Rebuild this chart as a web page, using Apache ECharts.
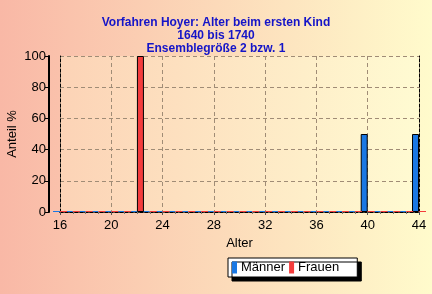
<!DOCTYPE html>
<html><head><meta charset="utf-8">
<script src="https://cdn.jsdelivr.net/npm/echarts@6/dist/echarts.min.js"></script>
<style>html,body{margin:0;padding:0;}#c{width:432px;height:294px;}</style>
</head><body><div id="c"></div>
<script>
const titleLines = ['Vorfahren Hoyer: Alter beim ersten Kind', '1640 bis 1740', 'Ensemblegröße 2 bzw. 1'];
const ages = [16,17,18,19,20,21,22,23,24,25,26,27,28,29,30,31,32,33,34,35,36,37,38,39,40,41,42,43,44];
const maenner = [0,0,0,0,0,0,0,0,0,0,0,0,0,0,0,0,0,0,0,0,0,0,0,0,50,0,0,0,50];
const frauen  = [0,0,0,0,0,0,100,0,0,0,0,0,0,0,0,0,0,0,0,0,0,0,0,0,0,0,0,0,0];
const xTicks = [16,20,24,28,32,36,40,44];
const yTicks = [0,20,40,60,80,100];

const chart = echarts.init(document.getElementById('c'), null, {renderer:'canvas'});
function mk(vals, color){
  return ages.map((a,i)=>({value:[a, vals[i]], itemStyle:{color:color, borderColor:'#000', borderWidth: vals[i] ? 1 : 0}}));
}
const dashBlack = {show:true, lineStyle:{color:'#000', width:1, type:[3,2]}};
const F = 'Liberation Sans';
chart.setOption({
  backgroundColor: new echarts.graphic.LinearGradient(0,0,1,0,[{offset:0,color:'#f9b8a6'},{offset:1,color:'#fffbcc'}]),
  animation:false,
  title:{text:titleLines.join('\n'), left:'center', top:11,
    textStyle:{fontFamily:F, fontSize:12, fontWeight:'bold', color:'#1414c8', lineHeight:13}},
  legend:{data:['Männer','Frauen'], left:228, top:258, orient:'horizontal',
    backgroundColor:'#fff', borderColor:'#000', borderWidth:1, padding:[3,18,3,4],
    shadowColor:'#000', shadowOffsetX:4, shadowOffsetY:4, shadowBlur:0,
    itemWidth:5, itemHeight:12, itemGap:4, icon:'rect',
    textStyle:{fontFamily:F, fontSize:13, color:'#000', padding:[0,0,0,-1]}},
  grid:{left:60, right:13, top:56, bottom:82, show:true, outerBoundsMode:'none', containLabel:false,
    backgroundColor: new echarts.graphic.LinearGradient(0,0,1,0,[{offset:0,color:'#fcd3b6'},{offset:1,color:'#fffbd2'}]),
    borderWidth:0},
  xAxis:[{type:'value', min:16, max:44, interval:4, position:'bottom',
      name:'Alter', nameLocation:'middle', nameGap:25, nameMoveOverlap:false,
      nameTextStyle:{fontFamily:F, fontSize:13, color:'#000'},
      axisLine:dashBlack, axisTick:{show:true, length:3, lineStyle:{color:'#555'}},
      minorTick:{show:true, splitNumber:4, length:2, lineStyle:{color:'#777'}},
      axisLabel:{fontFamily:F, fontSize:13, color:'#000', margin:7, customValues: xTicks},
      splitLine:{show:true, lineStyle:{color:'#a08c76', type:[4,3]}}},
    {type:'value', min:16, max:44, position:'top', axisLine:dashBlack, axisTick:{show:false}, axisLabel:{show:false}, splitLine:{show:false}}],
  yAxis:[{type:'value', min:0, max:100, interval:20, position:'left', offset:11,
      name:'Anteil %', nameLocation:'middle', nameGap:30, nameRotate:90, nameMoveOverlap:false,
      nameTextStyle:{fontFamily:F, fontSize:13, color:'#000'},
      axisLine:{show:true, lineStyle:{color:'#000', width:2}},
      axisTick:{show:true, length:4, lineStyle:{color:'#000'}},
      axisLabel:{fontFamily:F, fontSize:13, color:'#000', margin:3, customValues: yTicks},
      splitLine:{show:true, lineStyle:{color:'#a08c76', type:[4,3]}}},
    {type:'value', min:0, max:100, position:'left', offset:0, axisLine:dashBlack, axisTick:{show:false}, axisLabel:{show:false}, splitLine:{show:false}},
    {type:'value', min:0, max:100, position:'right', offset:0, axisLine:dashBlack, axisTick:{show:false}, axisLabel:{show:false}, splitLine:{show:false}}],
  series:[
    {name:'Männer', type:'bar', xAxisIndex:0, yAxisIndex:0, barWidth:7, barGap:'0%', barMinHeight:1, clip:false,
      itemStyle:{color:'#1a78e4'}, data: mk(maenner,'#1a78e4')},
    {name:'Frauen', type:'bar', xAxisIndex:0, yAxisIndex:0, barWidth:7, barGap:'0%', barMinHeight:1, clip:false,
      itemStyle:{color:'#f43c3c'}, data: mk(frauen,'#f43c3c')}
  ]
});
</script></body></html>
